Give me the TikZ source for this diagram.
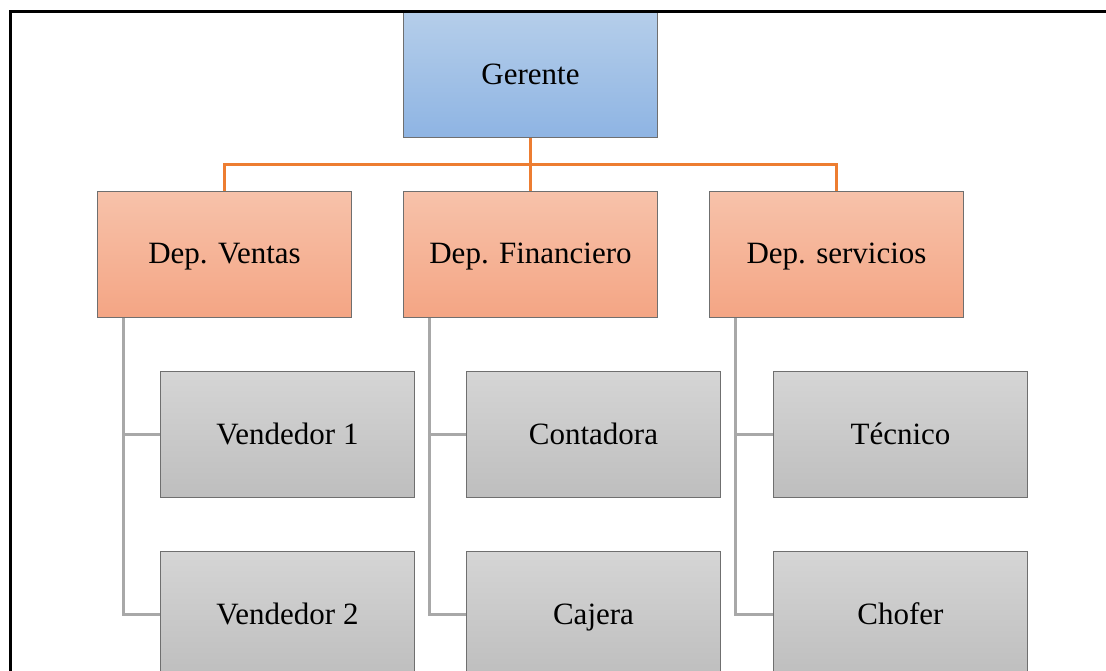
\documentclass[tikz,border=0pt]{standalone}
\usepackage{fontspec}
\setmainfont{Liberation Serif}
\definecolor{gerTop}{HTML}{B5CEEA}
\definecolor{gerBot}{HTML}{8EB4E3}
\definecolor{depTop}{HTML}{F7C2AA}
\definecolor{depBot}{HTML}{F4A584}
\definecolor{empTop}{HTML}{D5D5D5}
\definecolor{empBot}{HTML}{BEBEBE}
\definecolor{boxLine}{HTML}{6F6F6F}
\definecolor{orgLine}{HTML}{ED7D31}
\definecolor{grLine}{HTML}{A8A8A8}
\tikzset{
  box/.style={rectangle, draw=boxLine, line width=1pt, minimum width=254pt, minimum height=126pt, inner sep=0pt,
    text height=24pt, text depth=5pt,
    font=\fontsize{31}{37}\selectfont, text=black},
  gerbox/.style={box, top color=gerTop, bottom color=gerBot},
  depbox/.style={box, top color=depTop, bottom color=depBot},
  empbox/.style={box, top color=empTop, bottom color=empBot},
  orgconn/.style={draw=orgLine, line width=3pt},
  grconn/.style={draw=grLine, line width=3pt},
  frameline/.style={draw=black, line width=2.8pt}
}
\begin{document}
\begin{tikzpicture}[x=1pt,y=-1pt]
\useasboundingbox (0,0) rectangle (1106,671);
\clip (0,0) rectangle (1106,671);
\node[gerbox] (G) at (530.5,75) {Gerente};
\node[depbox] (V) at (224.5,254.5) {Dep. Ventas};
\node[depbox] (F) at (530.5,254.5) {Dep. Financiero};
\node[depbox] (S) at (836.5,254.5) {Dep. servicios};
\node[empbox] (V1) at (287.5,434.5) {Vendedor 1};
\node[empbox] (V2) at (287.5,614.5) {Vendedor 2};
\node[empbox] (F1) at (593.5,434.5) {Contadora};
\node[empbox] (F2) at (593.5,614.5) {Cajera};
\node[empbox] (S1) at (900.5,434.5) {Técnico};
\node[empbox] (S2) at (900.5,614.5) {Chofer};
\coordinate (bar) at (530.5,165);
\draw[orgconn] (G.south) -- (F.north);
\draw[orgconn] (V.north) |- (bar) -| (S.north);
\foreach \d/\a/\b in {V/V1/V2, F/F1/F2, S/S1/S2}{
  \draw[grconn] (\d.south west) ++(26,0) |- (\b.west);
  \draw[grconn] (\d.south west) ++(26,0) |- (\a.west);
}
\coordinate (fbl) at (10.7,700);
\coordinate (ftl) at (10.7,11.7);
\coordinate (ftr) at (1120,11.7);
\draw[frameline] (fbl) -- (ftl) -- (ftr);
\end{tikzpicture}
\end{document}
